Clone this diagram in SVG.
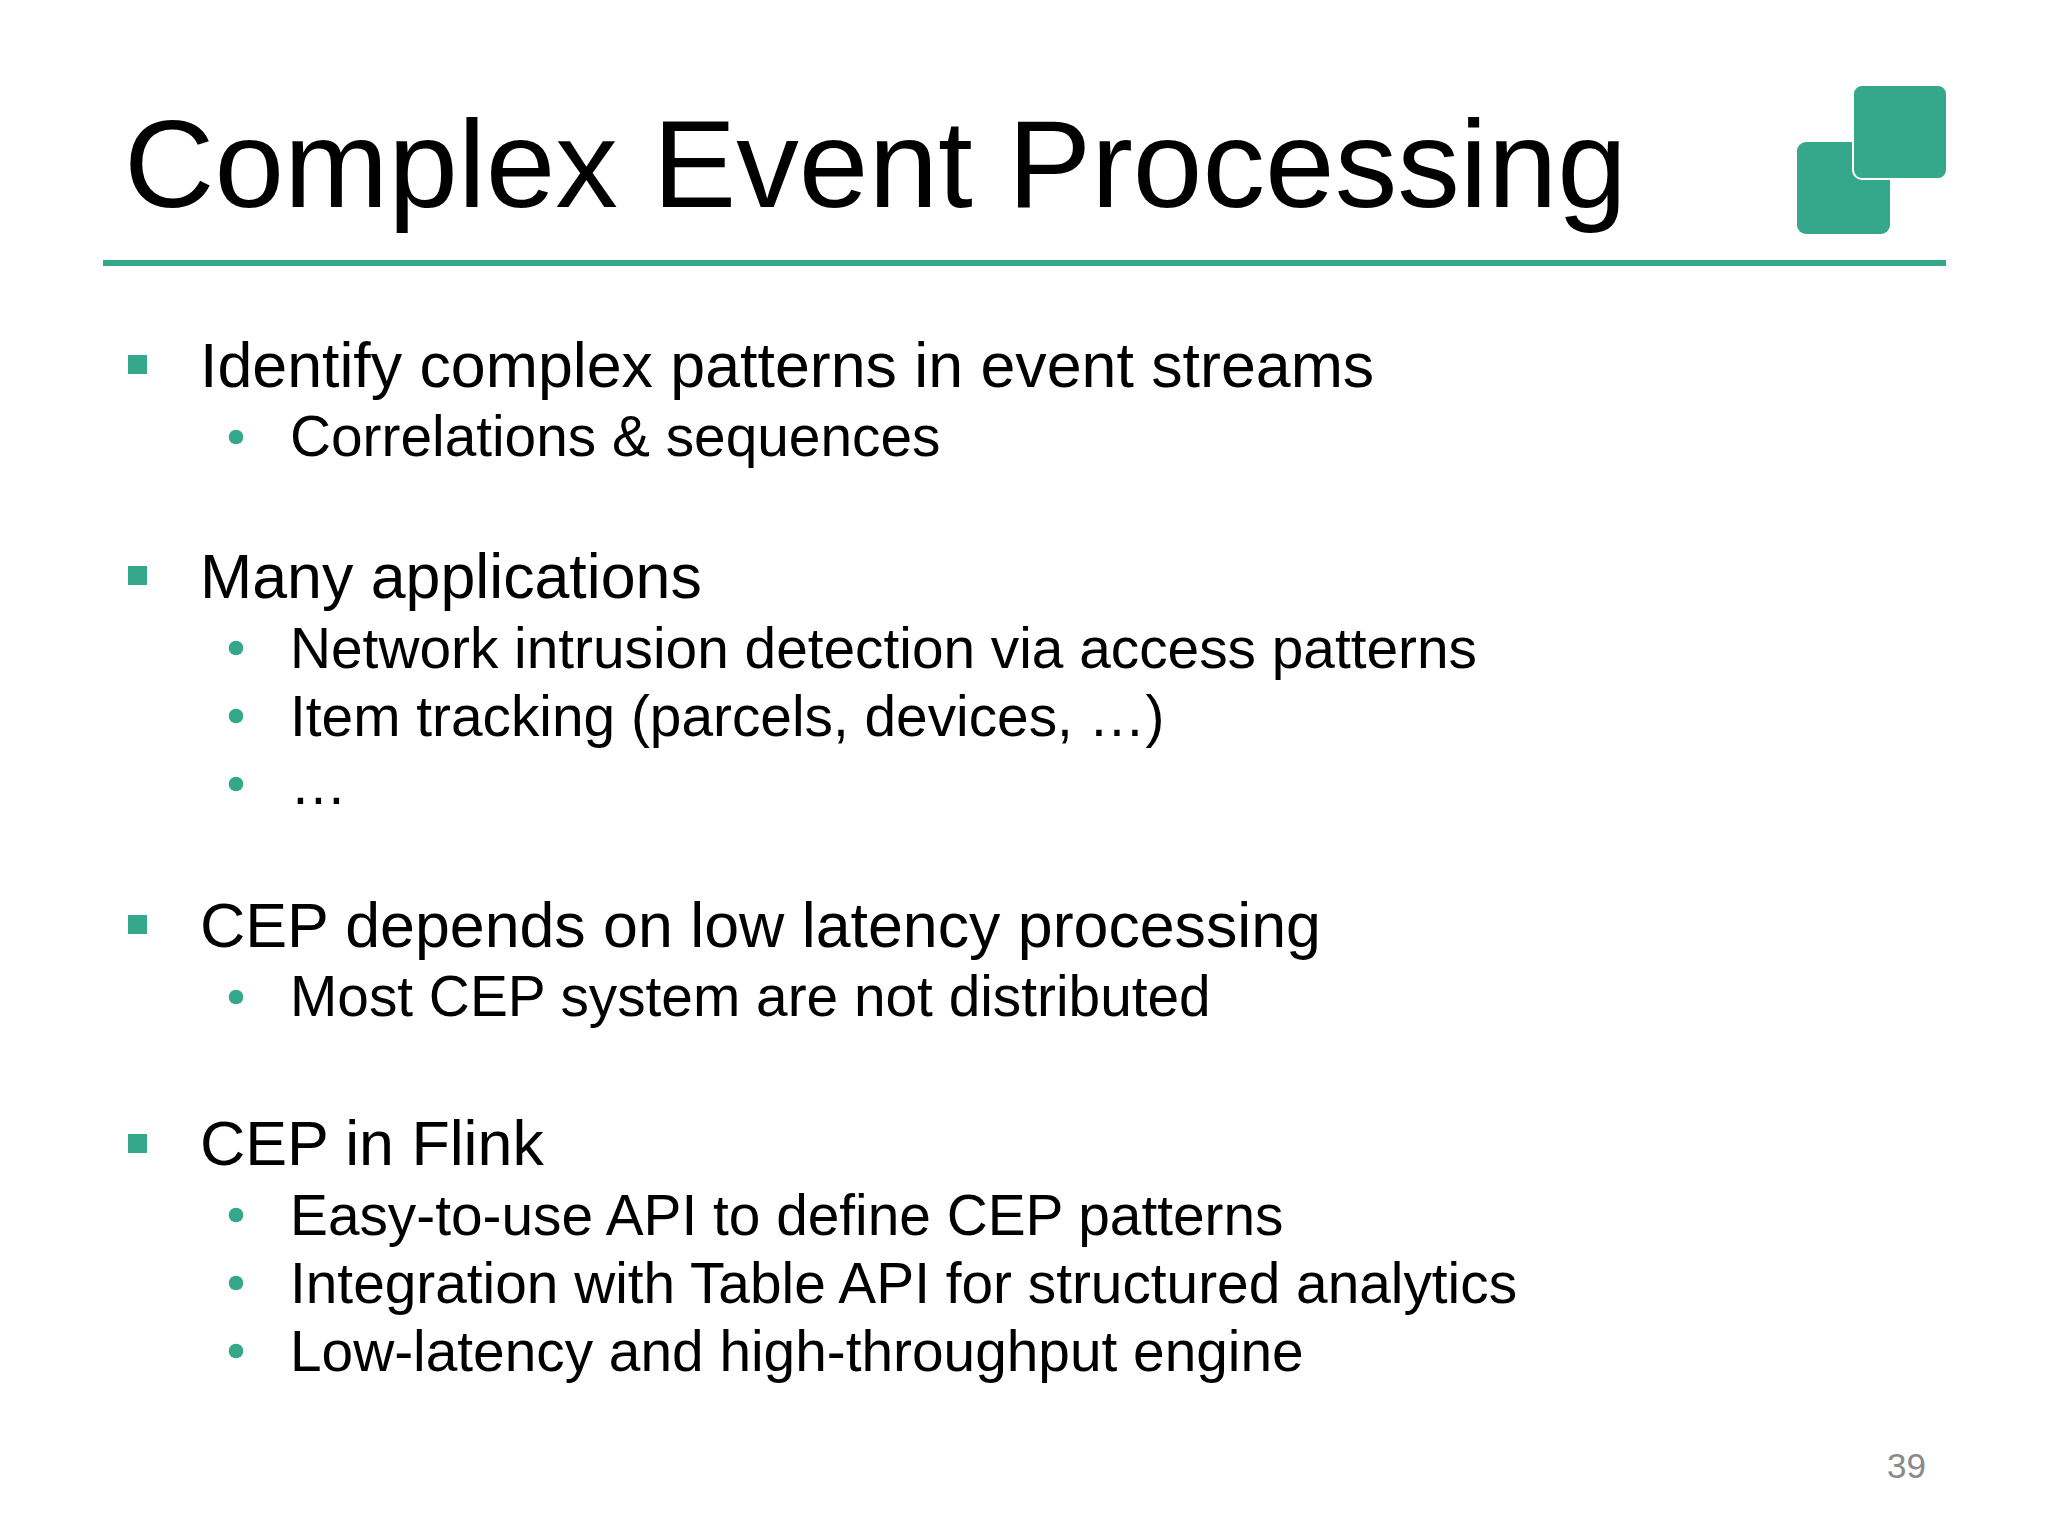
<svg xmlns="http://www.w3.org/2000/svg" width="2048" height="1536" viewBox="0 0 2048 1536">
<style>
text{font-family:"Liberation Sans",Arial,sans-serif;fill:#000}
.t{font-size:125.2px}
.a{font-size:62.7px}
.b{font-size:56.8px}
.s{fill:#35a88c}
</style>
<rect width="2048" height="1536" fill="#fff"/>
<text class="t" x="124" y="207">Complex Event Processing</text>
<g id="logo"><rect class="s" x="1797" y="142" width="93" height="92" rx="9"/><rect class="s" x="1853" y="85" width="94" height="94" rx="9" stroke="#fff" stroke-width="2"/></g>
<rect class="s" x="103" y="260" width="1843" height="6"/>
<g class="s"><rect x="128" y="355" width="19" height="19"/><rect x="128" y="566" width="19" height="19"/><rect x="128" y="915" width="19" height="19"/><rect x="128" y="1134" width="19" height="19"/>
<circle cx="236" cy="437" r="7.3"/><circle cx="236" cy="648" r="7.3"/><circle cx="236" cy="716" r="7.3"/><circle cx="236" cy="784" r="7.3"/><circle cx="236" cy="997" r="7.3"/><circle cx="236" cy="1215" r="7.3"/><circle cx="236" cy="1283" r="7.3"/><circle cx="236" cy="1351" r="7.3"/></g>
<text class="a" x="200" y="386.500">Identify complex patterns in event streams</text>
<text class="b" x="290" y="456">Correlations &amp; sequences</text>
<text class="a" x="200" y="598">Many applications</text>
<text class="b" x="290" y="668">Network intrusion detection via access patterns</text>
<text class="b" x="290" y="736">Item tracking (parcels, devices, …)</text>
<text class="b" x="290" y="804">…</text>
<text class="a" x="200" y="946.500">CEP depends on low latency processing</text>
<text class="b" x="290" y="1016">Most CEP system are not distributed</text>
<text class="a" x="200" y="1165">CEP in Flink</text>
<text class="b" x="290" y="1234.500">Easy-to-use API to define CEP patterns</text>
<text class="b" x="290" y="1303">Integration with Table API for structured analytics</text>
<text class="b" x="290" y="1371">Low-latency and high-throughput engine</text>
<text x="1887" y="1478" font-size="35" style="fill:#8a8a8a">39</text>
</svg>
